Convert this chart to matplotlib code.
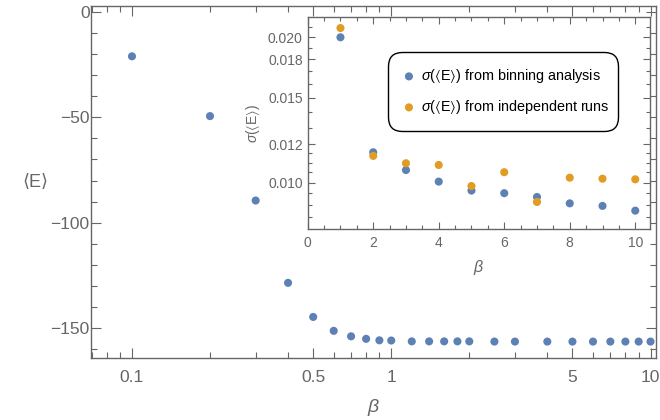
import matplotlib
matplotlib.use("Agg")
import matplotlib.pyplot as plt
import matplotlib.ticker as mticker
import numpy as np

plt.rcParams['font.family'] = ['Liberation Sans', 'DejaVu Sans']
plt.rcParams['mathtext.fontset'] = 'custom'
plt.rcParams['mathtext.it'] = 'Liberation Sans:italic'
plt.rcParams['mathtext.rm'] = 'Liberation Sans'
plt.rcParams['mathtext.fallback'] = 'stixsans'

BLUE = '#5E81B5'
ORANGE = '#E19C24'
GREY = '#666666'

# mean energy vs inverse temperature
beta = [0.1, 0.2, 0.3, 0.4, 0.5, 0.6, 0.7, 0.8, 0.9, 1.0,
        1.2, 1.4, 1.6, 1.8, 2.0, 2.5, 3.0, 4.0, 5.0, 6.0, 7.0, 8.0, 9.0, 10.0]
energy = [-21.0, -49.4, -89.5, -128.6, -144.8, -151.4, -154.0, -155.2, -155.9, -156.0,
          -156.4, -156.4, -156.4, -156.4, -156.4, -156.5, -156.5, -156.5, -156.5,
          -156.5, -156.5, -156.5, -156.5, -156.5]

# error estimates on <E>
beta_err = [1, 2, 3, 4, 5, 6, 7, 8, 9, 10]
sigma_binning = [0.0200, 0.01156, 0.01062, 0.01005, 0.00963, 0.00951, 0.00934, 0.00906, 0.00895, 0.00875]
sigma_runs = [0.0209, 0.01136, 0.01097, 0.01088, 0.00984, 0.01051, 0.00912, 0.01024, 0.01019, 0.01016]

SIGMA_E = r'$\sigma(\langle\mathrm{E}\rangle)$'

W, H = 660, 420
fig = plt.figure(figsize=(W / 100, H / 100), dpi=100)


def px_axes(l, t, r, b):
    return fig.add_axes([l / W, 1 - b / H, (r - l) / W, (b - t) / H])


def style_frame(a):
    for s in a.spines.values():
        s.set_color(GREY)
        s.set_linewidth(1.0)


# main panel
ax = px_axes(91, 6, 656, 358)
style_frame(ax)
ax.scatter(beta, energy, s=34, color=BLUE, edgecolors='none', zorder=3)
ax.set_xscale('log')
ax.set_xlim(0.0695, 10.5)
ax.set_ylim(-164.3, 2.9)
ax.xaxis.set_major_locator(mticker.FixedLocator([0.1, 0.5, 1, 5, 10]))
ax.xaxis.set_major_formatter(mticker.FixedFormatter(['0.1', '0.5', '1', '5', '10']))
ax.xaxis.set_minor_locator(mticker.FixedLocator(
    [0.07, 0.08, 0.09, 0.2, 0.3, 0.4, 0.6, 0.7, 0.8, 0.9, 2, 3, 4, 6, 7, 8, 9]))
ax.xaxis.set_minor_formatter(mticker.NullFormatter())
ax.yaxis.set_major_locator(mticker.MultipleLocator(50))
ax.yaxis.set_minor_locator(mticker.MultipleLocator(10))
ax.tick_params(which='both', direction='in', top=True, right=True, color=GREY,
               labelcolor=GREY, labelsize=12.5, width=0.8)
ax.tick_params(which='major', length=7)
ax.tick_params(which='minor', length=4)
ax.tick_params(axis='x', pad=9)
ax.tick_params(axis='y', pad=1)
ax.set_xlabel(r'$\it{\beta}$', fontsize=14, color=GREY, labelpad=8)
ax.set_ylabel('⟨E⟩', fontsize=13, color=GREY, rotation=0, labelpad=11, va='center')

# inset with error estimates
ins = px_axes(307.7, 17.3, 650, 229)
style_frame(ins)
ins.set_facecolor('white')
ins.scatter(beta_err, sigma_binning, s=34, color=BLUE, edgecolors='none', zorder=3,
            label=SIGMA_E + ' from binning analysis')
ins.scatter(beta_err, sigma_runs, s=34, color=ORANGE, edgecolors='none', zorder=3,
            label=SIGMA_E + ' from independent runs')
ins.set_yscale('log')
ins.set_xlim(0, 10.45)
ins.set_ylim(0.008017, 0.0220)
ins.xaxis.set_major_locator(mticker.MultipleLocator(2))
ins.xaxis.set_minor_locator(mticker.MultipleLocator(0.5))
ins.yaxis.set_major_locator(mticker.FixedLocator([0.010, 0.012, 0.015, 0.018, 0.020]))
ins.yaxis.set_major_formatter(mticker.FixedFormatter(['0.010', '0.012', '0.015', '0.018', '0.020']))
ins.yaxis.set_minor_locator(mticker.FixedLocator(
    [0.0085, 0.009, 0.0095, 0.0105, 0.011, 0.0115, 0.013, 0.014, 0.016, 0.017, 0.019, 0.021]))
ins.yaxis.set_minor_formatter(mticker.NullFormatter())
ins.tick_params(which='both', direction='in', top=True, right=True, color=GREY,
                labelcolor=GREY, labelsize=10, width=0.8)
ins.tick_params(which='major', length=5)
ins.tick_params(which='minor', length=3)
ins.tick_params(axis='x', pad=5)
ins.tick_params(axis='y', pad=3.5)
ins.set_xlabel(r'$\it{\beta}$', fontsize=11.5, color=GREY, labelpad=6)
ins.set_ylabel(SIGMA_E, fontsize=10, color=GREY, labelpad=4)

# legend box spans a fixed width inside the inset
lx0 = (388 - 307.7) / 342.3
ly1 = 1 - (52 - 17.3) / 211.7
leg = ins.legend(loc='upper left', bbox_to_anchor=(lx0, ly1 - 0.3, 230 / 342.3, 0.3), mode='expand',
                 fontsize=10.4, frameon=True, fancybox=True, edgecolor='black', framealpha=1,
                 borderpad=1.05, handlelength=0.8, handletextpad=0.45, labelspacing=0.9,
                 borderaxespad=0, scatterpoints=1)
leg.get_frame().set_boxstyle('round,pad=0,rounding_size=1.0')
leg.get_frame().set_linewidth(1.0)

fig.savefig('out.png', dpi=100)
